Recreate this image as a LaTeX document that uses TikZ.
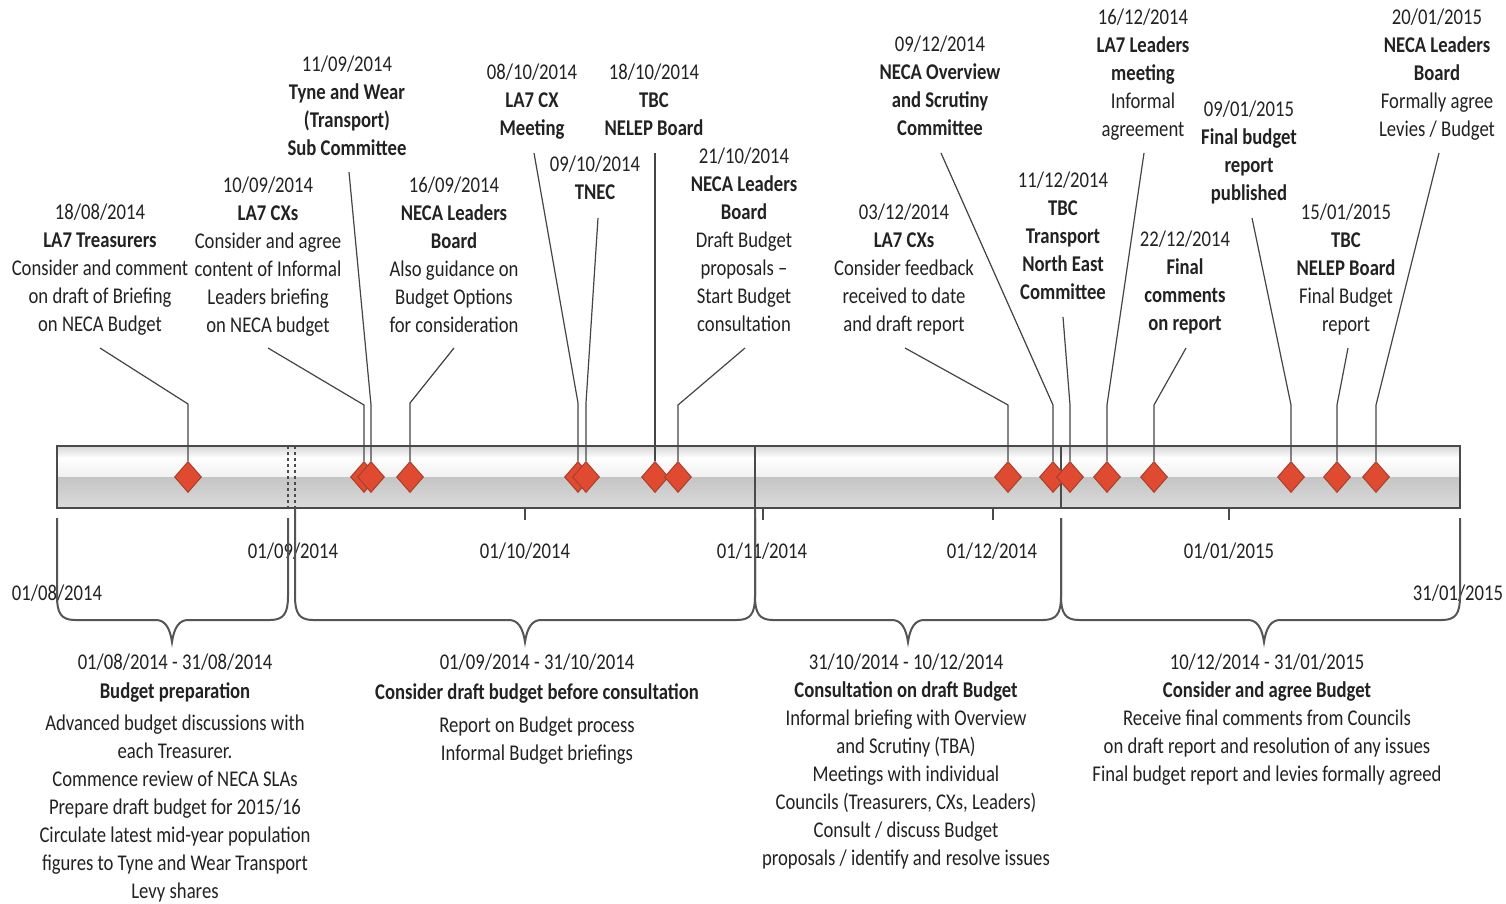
\documentclass[tikz,border=0pt]{standalone}
\usepackage{fontspec}
\setmainfont[FakeStretch=0.83]{Carlito}
\usetikzlibrary{shapes.geometric}
\definecolor{txt}{HTML}{222222}
\definecolor{lead}{HTML}{454545}
\definecolor{mk}{HTML}{E04A30}
\definecolor{mkb}{HTML}{A8402C}
\definecolor{barline}{HTML}{4A4A4A}
\definecolor{brc}{HTML}{555555}
\tikzset{
  lbl/.style={align=center, text=txt, inner sep=0pt, anchor=north,
    font=\fontsize{22.5}{28}\selectfont, execute at begin node=\strut},
  evmark/.style={diamond, draw=mkb, fill=mk, line width=1pt,
    minimum width=27pt, minimum height=31pt, inner sep=0pt},
  leader/.style={draw=lead, line width=1.2pt},
  bracep/.style={draw=brc, line width=2pt},
  axisline/.style={draw=barline, line width=1.5pt},
  tick/.style={draw=barline, line width=1.2pt}
}
\begin{document}
\begin{tikzpicture}[x=1pt,y=-1pt]
\useasboundingbox[fill=white] (0,0) rectangle (1506,904);

% ---- bar ----
\shade[top color=gray!32, bottom color=white] (57,446) rectangle (1460,458);
\shade[top color=white, bottom color=gray!12] (57,458) rectangle (1460,477);
\shade[top color=gray!46, bottom color=gray!28] (57,477) rectangle (1460,508);
\draw[axisline] (57,446) rectangle (1460,508);
\draw[tick] (755,446) -- (755,508);
\draw[tick] (1061,446) -- (1061,508);
\draw[tick, dashed] (288,446) -- (288,508);
\draw[tick, dashed] (295,446) -- (295,508);

% ---- axis date labels ----
\node[lbl] (t0) at (57,580.4) {01/08/2014};
\node[lbl] (t1) at (293,538.4) {01/09/2014};
\node[lbl] (t2) at (525,538.4) {01/10/2014};
\node[lbl] (t3) at (762,538.4) {01/11/2014};
\node[lbl] (t4) at (992,538.4) {01/12/2014};
\node[lbl] (t5) at (1229,538.4) {01/01/2015};
\node[lbl] (t6) at (1458,580.4) {31/01/2015};

% ---- ticks ----
\foreach \tx in {525,763,993,1229} \draw[tick] (\tx,508) -- (\tx,520);

% ---- braces ----
\foreach \xl/\xm/\xr/\yt in {57/172/288/518, 295/525/755/508, 755/908/1061/518, 1061/1264/1460/518} {
  \draw[bracep] (\xl,\yt) -- (\xl,596) .. controls (\xl,613) and (\xl+4,620) .. (\xl+18,620)
    -- (\xm-16,620) .. controls (\xm-7,620) and (\xm-2,628) .. (\xm,642)
    .. controls (\xm+2,628) and (\xm+7,620) .. (\xm+16,620)
    -- (\xr-18,620) .. controls (\xr-4,620) and (\xr,613) .. (\xr,596) -- (\xr,\yt);
}

% ---- event markers ----
\node[evmark] (d1) at (188,477) {};
\node[evmark] (d2) at (364,477) {};
\node[evmark] (d3) at (371,477) {};
\node[evmark] (d4) at (410,477) {};
\node[evmark] (d5) at (578,477) {};
\node[evmark] (d6) at (586,477) {};
\node[evmark] (d7) at (655,477) {};
\node[evmark] (d8) at (678,477) {};
\node[evmark] (d9) at (1008,477) {};
\node[evmark] (d10) at (1053,477) {};
\node[evmark] (d11) at (1070,477) {};
\node[evmark] (d12) at (1107,477) {};
\node[evmark] (d13) at (1154,477) {};
\node[evmark] (d14) at (1291,477) {};
\node[evmark] (d15) at (1337,477) {};
\node[evmark] (d16) at (1376,477) {};

% ---- event labels ----
\node[lbl] (l1) at (100,204) {18/08/2014\\\textbf{LA7 Treasurers}\\Consider and comment\\on draft of Briefing\\on NECA Budget};
\node[lbl] (l2) at (268,177) {10/09/2014\\\textbf{LA7 CXs}\\Consider and agree\\content of Informal\\Leaders briefing\\on NECA budget};
\node[lbl] (l3) at (347,56) {11/09/2014\\\textbf{Tyne and Wear}\\\textbf{(Transport)}\\\textbf{Sub Committee}};
\node[lbl] (l4) at (454,177) {16/09/2014\\\textbf{NECA Leaders}\\\textbf{Board}\\Also guidance on\\Budget Options\\for consideration};
\node[lbl] (l5) at (532,64) {08/10/2014\\\textbf{LA7 CX}\\\textbf{Meeting}};
\node[lbl] (l6) at (595,156) {09/10/2014\\\textbf{TNEC}};
\node[lbl] (l7) at (654,64) {18/10/2014\\\textbf{TBC}\\\textbf{NELEP Board}};
\node[lbl] (l8) at (744,148) {21/10/2014\\\textbf{NECA Leaders}\\\textbf{Board}\\Draft Budget\\proposals --\\Start Budget\\consultation};
\node[lbl] (l9) at (904,204) {03/12/2014\\\textbf{LA7 CXs}\\Consider feedback\\received to date\\and draft report};
\node[lbl] (l10) at (940,36) {09/12/2014\\\textbf{NECA Overview}\\\textbf{and Scrutiny}\\\textbf{Committee}};
\node[lbl] (l11) at (1063,172) {11/12/2014\\\textbf{TBC}\\\textbf{Transport}\\\textbf{North East}\\\textbf{Committee}};
\node[lbl] (l12) at (1143,9) {16/12/2014\\\textbf{LA7 Leaders}\\\textbf{meeting}\\Informal\\agreement};
\node[lbl] (l13) at (1185,231) {22/12/2014\\\textbf{Final}\\\textbf{comments}\\\textbf{on report}};
\node[lbl] (l14) at (1249,101) {09/01/2015\\\textbf{Final budget}\\\textbf{report}\\\textbf{published}};
\node[lbl] (l15) at (1346,204) {15/01/2015\\\textbf{TBC}\\\textbf{NELEP Board}\\Final Budget\\report};
\node[lbl] (l16) at (1437,9) {20/01/2015\\\textbf{NECA Leaders}\\\textbf{Board}\\Formally agree\\Levies / Budget};

% ---- leader lines ----
\coordinate (p1) at (100,348);  \coordinate (b1) at (188,404);
\coordinate (p2) at (268,348);  \coordinate (b2) at (364,405);
\coordinate (p3) at (349,172);  \coordinate (b3) at (371,405);
\coordinate (p4) at (454,348);  \coordinate (b4) at (410,403);
\coordinate (p5) at (534,153);  \coordinate (b5) at (578,403);
\coordinate (p6) at (598,218);  \coordinate (b6) at (586,403);
\coordinate (p7) at (655,153);  \coordinate (b7) at (655,403);
\coordinate (p8) at (745,348);  \coordinate (b8) at (678,405);
\coordinate (p9) at (905,348);  \coordinate (b9) at (1008,405);
\coordinate (p10) at (941,153); \coordinate (b10) at (1053,405);
\coordinate (p11) at (1063,317);\coordinate (b11) at (1070,405);
\coordinate (p12) at (1144,153);\coordinate (b12) at (1107,405);
\coordinate (p13) at (1186,348);\coordinate (b13) at (1154,405);
\coordinate (p14) at (1252,218);\coordinate (b14) at (1291,405);
\coordinate (p15) at (1348,348);\coordinate (b15) at (1337,405);
\coordinate (p16) at (1439,153);\coordinate (b16) at (1376,405);
\foreach \i in {1,...,16} \draw[leader] (p\i) -- (b\i) -- (d\i.north);

% ---- period descriptions ----
\node[lbl] (s1) at (175,654) {01/08/2014 - 31/08/2014\\[1pt]\textbf{Budget preparation}\\[4pt]Advanced budget discussions with\\each Treasurer.\\Commence review of NECA SLAs\\Prepare draft budget for 2015/16\\Circulate latest mid-year population\\figures to Tyne and Wear Transport\\Levy shares};
\node[lbl] (s2) at (537,654) {01/09/2014 - 31/10/2014\\[2pt]\textbf{Consider draft budget before consultation}\\[5pt]Report on Budget process\\Informal Budget briefings};
\node[lbl] (s3) at (906,654) {31/10/2014 - 10/12/2014\\\textbf{Consultation on draft Budget}\\Informal briefing with Overview\\and Scrutiny (TBA)\\Meetings with individual\\Councils (Treasurers, CXs, Leaders)\\Consult / discuss Budget\\proposals / identify and resolve issues};
\node[lbl] (s4) at (1267,654) {10/12/2014 - 31/01/2015\\\textbf{Consider and agree Budget}\\Receive final comments from Councils\\on draft report and resolution of any issues\\Final budget report and levies formally agreed};
\end{tikzpicture}
\end{document}
